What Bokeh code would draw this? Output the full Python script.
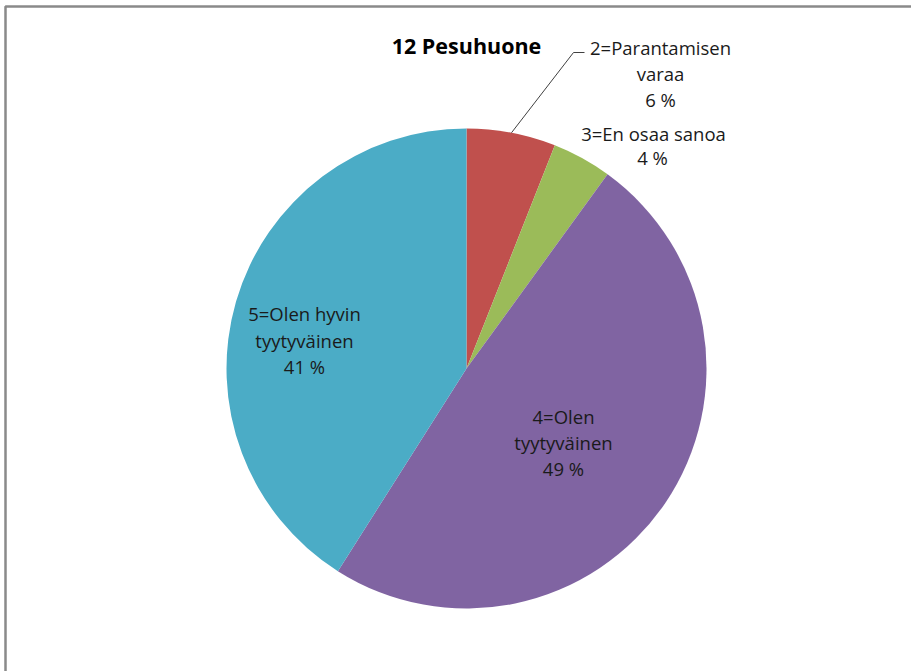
import math
from bokeh.plotting import figure
from bokeh.models import Range1d
from bokeh.core.properties import value
from bokeh.embed import file_html
from bokeh.resources import INLINE

# Survey answers for the bathroom question, in drawing order (clockwise from 12 o'clock)
categories = ["2=Parantamisen varaa", "3=En osaa sanoa", "4=Olen tyytyväinen", "5=Olen hyvin tyytyväinen"]
percents = [6, 4, 49, 41]
colors = ["#C0504D", "#9BBB59", "#8064A2", "#4BACC6"]
title_text = "12 Pesuhuone"

W, H = 911, 671
FONT = "Open Sans"

p = figure(width=W, height=H, output_backend="svg", toolbar_location=None,
           x_range=Range1d(0, W), y_range=Range1d(0, H),
           min_border=0, outline_line_color=None)
p.axis.visible = False
p.grid.visible = False
p.background_fill_color = "white"
p.border_fill_color = "white"


def py(y_top):
    """Convert a top-down pixel row to the plot's upward y coordinate."""
    return H - y_top


# chart area frame
p.line(x=[5, 5, W + 20], y=[py(H + 20), py(6), py(6)], line_color="#8a8a8a", line_width=2.5)

# pie
cx, cy, r = 466, py(368), 240
total = sum(percents)
starts, ends, mids = [], [], []
cum = 0.0
for v in percents:
    a0 = math.pi / 2 - 2 * math.pi * cum / total
    cum += v
    a1 = math.pi / 2 - 2 * math.pi * cum / total
    starts.append(a0)
    ends.append(a1)
    mids.append((a0 + a1) / 2)

p.wedge(x=[cx] * len(percents), y=[cy] * len(percents), radius=r,
        start_angle=starts, end_angle=ends, direction="clock",
        fill_color=colors, line_color=None)

# leader line for the small red slice
lx0 = cx + r * math.cos(mids[0])
ly0 = cy + r * math.sin(mids[0])
p.line(x=[lx0, 573, 584], y=[ly0, py(52), py(52)], line_color="#404040", line_width=1)

# title
p.text(x=[466], y=[py(45)], text=[title_text], text_font=value(FONT),
       text_font_style="bold", text_font_size="21.5px", text_color="#000000",
       text_align="center", text_baseline="middle")

# data labels: (lines, center x, center y of each line)
label_layout = [
    (["2=Parantamisen", "varaa", f"{percents[0]} %"], [660, 660, 660], [47, 73, 99]),
    (["3=En osaa sanoa", f"{percents[1]} %"], [653, 652], [133, 157]),
    (["4=Olen", "tyytyväinen", f"{percents[2]} %"], [563, 563, 563], [416, 442, 468]),
    (["5=Olen hyvin", "tyytyväinen", f"{percents[3]} %"], [304, 304, 304], [313, 340, 366]),
]
for lines, xs, ys in label_layout:
    p.text(x=xs, y=[py(v) for v in ys], text=lines, text_font=value(FONT),
           text_font_size="18.5px", text_color="#1a1a1a",
           text_align="center", text_baseline="middle")

open("out.html", "w").write(file_html(p, INLINE))
